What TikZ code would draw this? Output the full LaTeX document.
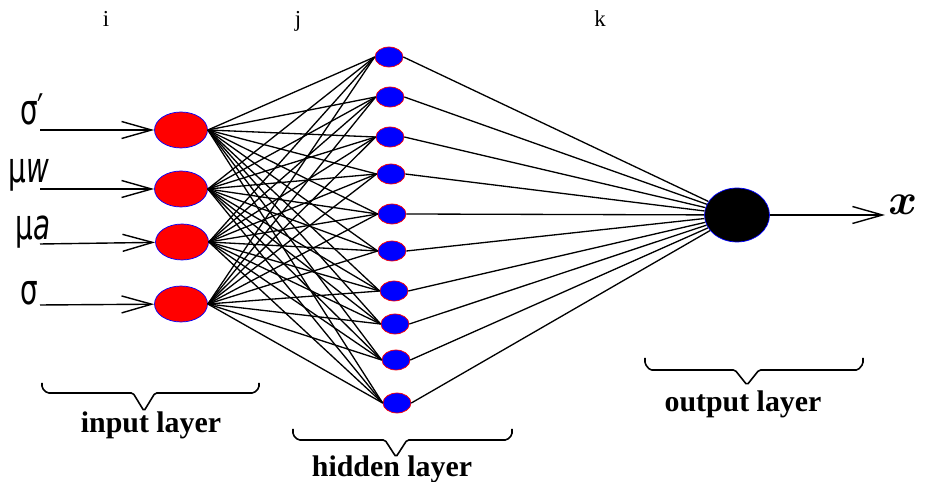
\documentclass[tikz,border=0pt]{standalone}
\usepackage{amsmath}
\usepackage{graphicx}
\usepackage{fontspec}
\setmainfont{Liberation Serif}
\newfontfamily\symfont{DejaVu Sans}
\usetikzlibrary{shapes.geometric,arrows.meta,positioning}

\begin{document}
\begin{tikzpicture}[x=0.02cm, y=-0.02cm,
    inp/.style={ellipse, draw=blue, fill=red, minimum width=1.06cm, minimum height=0.72cm, inner sep=0pt},
    hid/.style={ellipse, draw=red, fill=blue, minimum width=0.56cm, minimum height=0.40cm, inner sep=0pt},
    outp/.style={ellipse, draw=blue, fill=black, minimum width=1.3cm, minimum height=1.08cm, inner sep=0pt},
    link/.style={line width=0.75pt},
    arrow/.style={-{Straight Barb[length=0.6cm,width=0.34cm]}, line width=0.8pt},
    brace/.style={line width=0.9pt, rounded corners=1pt},
    var/.style={anchor=base west, inner sep=0pt, font=\symfont\fontsize{24}{24}\selectfont},
    idx/.style={anchor=base, inner sep=0pt, font=\fontsize{13}{13}\selectfont},
    layer/.style={anchor=base, inner sep=0pt, font=\bfseries\fontsize{17}{17}\selectfont}
  ]
    \useasboundingbox (0,0) rectangle (933,482);

    % layer indices
    \node[idx] (li) at (106,27) {i};
    \node[idx] (lj) at (298,27) {j};
    \node[idx] (lk) at (600,27) {k};

    % neurons
    \node[inp] (i1) at (181,130) {};
    \node[inp] (i2) at (181,189) {};
    \node[inp] (i3) at (182,242) {};
    \node[inp] (i4) at (181,304) {};
    \foreach \n/\x/\y in {1/389/57, 2/390/97, 3/390/137, 4/391/174, 5/392/214,
                          6/392/251, 7/394/291, 8/395/324, 9/396/360, 10/397/403}
      \node[hid] (h\n) at (\x,\y) {};
    \node[outp] (o) at (737,215) {};

    % weights
    \foreach \a in {1,...,4}
      \foreach \b in {1,...,10}
        \draw[link] (i\a.east) -- (h\b.west);
    \foreach \b in {1,...,10}
      \draw[link] (h\b.east) -- (o);

    % inputs
    \node[var] (v1) at (20,125) {\scalebox{0.66}[1]{σ′}};
    \node[var] (v2) at (8,183) {\scalebox{0.66}[1]{μ\textit{w}}};
    \node[var] (v3) at (15,240) {\scalebox{0.66}[1]{μ\textit{a}}};
    \node[var] (v4) at (20,305) {\scalebox{0.66}[1]{σ}};
    \coordinate (a1) at (40,130);
    \coordinate (a2) at (40,189);
    \coordinate (a3) at (40,244);
    \coordinate (a4) at (40,305);
    \foreach \n in {1,...,4}
      \draw[arrow] (a\n) -- (i\n);

    % output
    \coordinate (xe) at (885,215);
    \draw[arrow] (o) -- (xe);
    \node[anchor=base west, inner sep=0pt, font=\fontsize{34}{34}\selectfont] (x) at (888,215) {$\boldsymbol{x}$};

    % braces
    \draw[brace] (42,383) -- (42,388) -- (47,393) -- (133,393) -- (144,411) -- (155,393) -- (254,393) -- (259,388) -- (259,383);
    \draw[brace] (293,429) -- (293,435) -- (298,440) -- (385,440) -- (396,457) -- (407,440) -- (507,440) -- (512,435) -- (512,429);
    \draw[brace] (645,358) -- (645,364) -- (650,370) -- (735,370) -- (747,385) -- (759,370) -- (858,370) -- (863,364) -- (863,358);

    \node[layer] (lin) at (151,433) {input layer};
    \node[layer] (lhid) at (392,477) {hidden layer};
    \node[layer] (lout) at (743,412) {output layer};
\end{tikzpicture}
\end{document}
